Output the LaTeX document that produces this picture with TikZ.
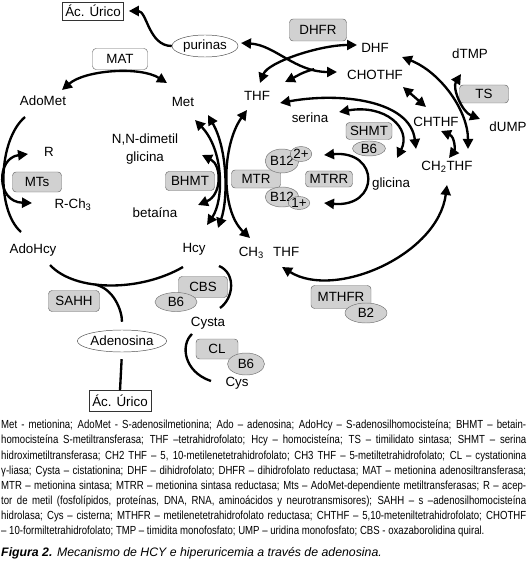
\documentclass[tikz,border=0pt]{standalone}
\usepackage{fontspec}
\setmainfont{Liberation Sans}
\newfontfamily\legendfont[FakeStretch=0.82]{Liberation Sans}
\usepackage{tikz}
\usetikzlibrary{shapes.geometric, arrows.meta, positioning, calc}
\newcommand{\lblsize}{\fontsize{11.4}{15}\selectfont}
\tikzset{
    metab/.style={inner sep=1pt, font=\lblsize},
    enzyme/.style={rectangle, draw=black!60, fill=black!18, rounded corners=3pt, inner sep=1pt, minimum width=14.7mm, minimum height=5.6mm, font=\lblsize},
    cofactor/.style={ellipse, draw=black!55, fill=black!18, inner sep=0pt, font=\lblsize},
    pool/.style={ellipse, draw=black!70, fill=white, inner sep=0pt, font=\lblsize},
    endbox/.style={rectangle, draw=black!80, inner sep=2.5pt, font=\lblsize},
    arrow/.style={line width=2pt, {Triangle[length=3mm,width=3mm]}-{Triangle[length=3mm,width=3mm]}},
    oneway/.style={line width=2pt, -{Triangle[length=3mm,width=3mm]}},
    line/.style={line width=2pt}
}
\begin{document}
\begin{tikzpicture}[x=0.3mm, y=-0.3mm]
    \useasboundingbox (0,0) rectangle (527,576);
    % metabolites
    \node (adomet) [metab] at (43,101) {AdoMet};
    \node (met) [metab] at (183,102) {Met};
    \node (thf) [metab] at (257,96) {THF};
    \node (dhf) [metab] at (375,48) {DHF};
    \node (chothf) [metab] at (375,75) {CHOTHF};
    \node (dtmp) [metab] at (470,54) {dTMP};
    \node (dump) [metab] at (508,127) {dUMP};
    \node (chthf) [metab] at (436,122) {CHTHF};
    \node (chtwothf) [metab] at (447,167) {CH\textsubscript{2}THF};
    \node (serina) [metab] at (310,118) {serina};
    \node (glicina) [metab] at (391,184) {glicina};
    \node (dmg) [metab, align=center] at (145,149) {N,N-dimetil\\glicina};
    \node (betaina) [metab] at (155,213) {betaína};
    \node (racc) [metab] at (49,152) {R};
    \node (rmethyl) [metab] at (73,205) {R-Ch\textsubscript{3}};
    \node (adohcy) [metab] at (33,250) {AdoHcy};
    \node (hcy) [metab] at (194,249) {Hcy};
    \node (chthree) [metab] at (269,253) {CH\textsubscript{3}\hspace{0.7em}THF};
    \node (cysta) [metab] at (208,323) {Cysta};
    \node (cys) [metab] at (237,383) {Cys};
    \node (purinas) [pool, minimum width=19.8mm, minimum height=6.6mm] at (205,46) {purinas};
    \node (adenosina) [pool, minimum width=25.8mm, minimum height=6.6mm] at (122,341) {Adenosina};
    \node (acurtop) [endbox] at (93,11) {Ác. Úrico};
    \node (acurbot) [endbox, minimum width=18.6mm, minimum height=6.3mm] at (120,401) {Ác. Úrico};

    % enzymes and cofactors
    \node (mat) [enzyme, fill=white, minimum width=16.5mm, minimum height=6.3mm] at (120,59) {MAT};
    \node (dhfr) [enzyme, minimum width=17.1mm, minimum height=6.6mm] at (318,30) {DHFR};
    \node (ts) [enzyme, minimum height=5.4mm] at (484,94) {TS};
    \node (shmt) [enzyme, minimum width=13.8mm, minimum height=5.1mm] at (369,131) {SHMT};
    \node (bsixa) [cofactor, minimum width=9.9mm, minimum height=4.5mm, below=0.3mm of shmt] {B6};
    \node (mtrr) [enzyme, minimum width=14.1mm, minimum height=4.8mm] at (329,179) {MTRR};
    \node (mtr) [enzyme, minimum height=5.4mm] at (256,179) {MTR};
    \node (btwelvea) [cofactor, minimum width=10mm, minimum height=7.2mm] at (282,161) {B12};
    \node (twoplus) [cofactor, minimum width=5.1mm, minimum height=4.5mm] at (301,154) {2+};
    \node (btwelveb) [cofactor, minimum width=10mm, minimum height=6mm] at (282,197) {B12};
    \node (oneplus) [cofactor, minimum width=5.1mm, minimum height=3.9mm] at (299,203) {1+};
    \node (bhmt) [enzyme, minimum height=5.7mm] at (190,181) {BHMT};
    \node (mts) [enzyme, minimum height=6mm] at (37,182) {MTs};
    \node (cbs) [enzyme, minimum height=6.3mm] at (203,287) {CBS};
    \node (bsixb) [cofactor, minimum width=12.6mm, minimum height=5.7mm] at (176,302) {B6};
    \node (sahh) [enzyme, minimum width=15.3mm, minimum height=6.3mm] at (74,301) {SAHH};
    \node (cl) [enzyme, minimum width=12.6mm, minimum height=6mm] at (217,349) {CL};
    \node (bsixc) [cofactor, minimum width=11.1mm, minimum height=6.6mm] at (246,364) {B6};
    \node (mthfr) [enzyme, minimum width=18mm, minimum height=6.9mm] at (341,297) {MTHFR};
    \node (btwo) [cofactor, minimum width=12.6mm, minimum height=6mm] at (366,313) {B2};

    % connectors
    \draw [oneway, shorten >=1.5mm] (purinas.west) to[out=180, in=0] (acurtop.east);
    \draw [arrow] ($(purinas)+(36,-3)$) .. controls +(34,2) and +(-42,0) .. ($(chothf)+(-38,-3)$) coordinate[pos=0.8] (fork);
    \draw [oneway] (fork) .. controls +(-12,3) and +(12,-6) .. ($(thf)+(28,-14)$);
    \draw [arrow] ($(thf)+(3,-13)$) .. controls +(8,-21) and +(-37,0) .. ($(dhf)+(-18,-3)$);
    \draw [arrow] ($(thf)+(23,7)$) .. controls +(60,-11) and +(-6,-49) .. ($(chtwothf)+(-31,-18)$);
    \draw [arrow] ($(serina)+(29,-6)$) .. controls +(46,-8) and +(15,-30) .. ($(glicina)+(6,-26)$);
    \draw [arrow] ($(chothf)+(28,12)$) -- ($(chthf)+(-10,-15)$);
    \draw [arrow] ($(chthf)+(5,9)$) .. controls +(14,6) and +(6,-8) .. ($(chtwothf)+(2,-9)$);
    \draw [arrow] ($(dhf)+(27,9)$) .. controls +(38,15) and +(0,-39) .. ($(chtwothf)+(21,-18)$);
    \draw [arrow] ($(dtmp)+(-9,20)$) .. controls +(-9,14) and +(-18,-7) .. ($(dump)+(-28,-8)$);
    \draw [arrow] ($(adomet)+(19,-11)$) .. controls +(23,-20) and +(-27,-17) .. ($(met)+(-16,-19)$);
    \draw [arrow] ($(met)+(12,18)$) .. controls +(29,30) and +(17,-25) .. ($(hcy)+(13,-24)$);
    \draw [arrow] ($(met)+(25,13)$) .. controls +(20,35) and +(10,-28) .. ($(hcy)+(24,-21)$);
    \draw [arrow] ($(dmg)+(57,6)$) .. controls +(20,10) and +(24,-10) .. ($(betaina)+(43,-8)$);
    \draw [arrow] ($(thf)+(-10,14)$) .. controls +(-25,35) and +(-30,-28) .. ($(chthree)+(-19,-15)$);
    \draw [arrow] ($(btwelvea)+(42,-6)$) .. controls +(56,-5) and +(56,5) .. ($(btwelveb)+(42,6)$);
    \draw [arrow] ($(chtwothf)+(0,18)$) .. controls +(-9,70) and +(53,33) .. ($(chthree)+(13,14)$);
    \draw [arrow] ($(racc)+(-21,2)$) .. controls +(-32,4) and +(-36,-1) .. ($(rmethyl)+(-41,-2)$);
    \draw [line] ($(adomet)+(-18,16)$) .. controls +(-27,23) and +(-25,-22) .. ($(adohcy)+(-12,-18)$);
    \draw [line] ($(adohcy)+(17,15)$) .. controls +(25,27) and +(-43,25) .. ($(hcy)+(-11,18)$) coordinate[pos=0.4] (split);
    \draw [line, shorten >=2.4mm] (split) .. controls +(18,4) and +(0,-20) .. (adenosina.north);
    \draw [line, shorten <=2.1mm] (adenosina.south) -- (acurbot.north);
    \draw [line] ($(hcy)+(25,17)$) .. controls +(17,7) and +(14,-10) .. ($(cysta)+(12,-15)$);
    \draw [line] ($(cysta)+(-16,11)$) .. controls +(-12,11) and +(-27,-9) .. ($(cys)+(-26,-2)$);

    % legend and caption
    \node (legend) [anchor=north west, inner sep=0pt, text width=157.5mm, align=justify, font=\legendfont\fontsize{10}{12.9}\selectfont] at (1,420) {\noindent Met - metionina; AdoMet - S-adenosilmetionina; Ado – adenosina; AdoHcy – S-adenosilhomocisteína; BHMT – betain-\linebreak homocisteína S-metiltransferasa; THF –tetrahidrofolato; Hcy – homocisteína; TS – timilidato sintasa; SHMT – serina\linebreak hidroximetiltransferasa; CH2 THF – 5, 10-metilenetetrahidrofolato; CH3 THF – 5-metiltetrahidrofolato; CL – cystationina\linebreak γ-liasa; Cysta – cistationina; DHF – dihidrofolato; DHFR – dihidrofolato reductasa; MAT – metionina adenosiltransferasa;\linebreak MTR – metionina sintasa; MTRR – metionina sintasa reductasa; Mts – AdoMet-dependiente metiltransferasas; R – acep-\linebreak tor de metil (fosfolípidos, proteínas, DNA, RNA, aminoácidos y neurotransmisores); SAHH – s –adenosilhomocisteína\linebreak hidrolasa; Cys – cisterna; MTHFR – metilenetetrahidrofolato reductasa; CHTHF – 5,10-meteniltetrahidrofolato; CHOTHF\linebreak – 10-formiltetrahidrofolato; TMP – timidita monofosfato; UMP – uridina monofosfato; CBS - oxazaborolidina quiral.};
    \node (caption) [anchor=base west, inner sep=0pt, font=\fontsize{10.5}{12}\selectfont\itshape] at (1,556) {\textbf{Figura 2.} Mecanismo de HCY e hiperuricemia a través de adenosina.};
\end{tikzpicture}
\end{document}
